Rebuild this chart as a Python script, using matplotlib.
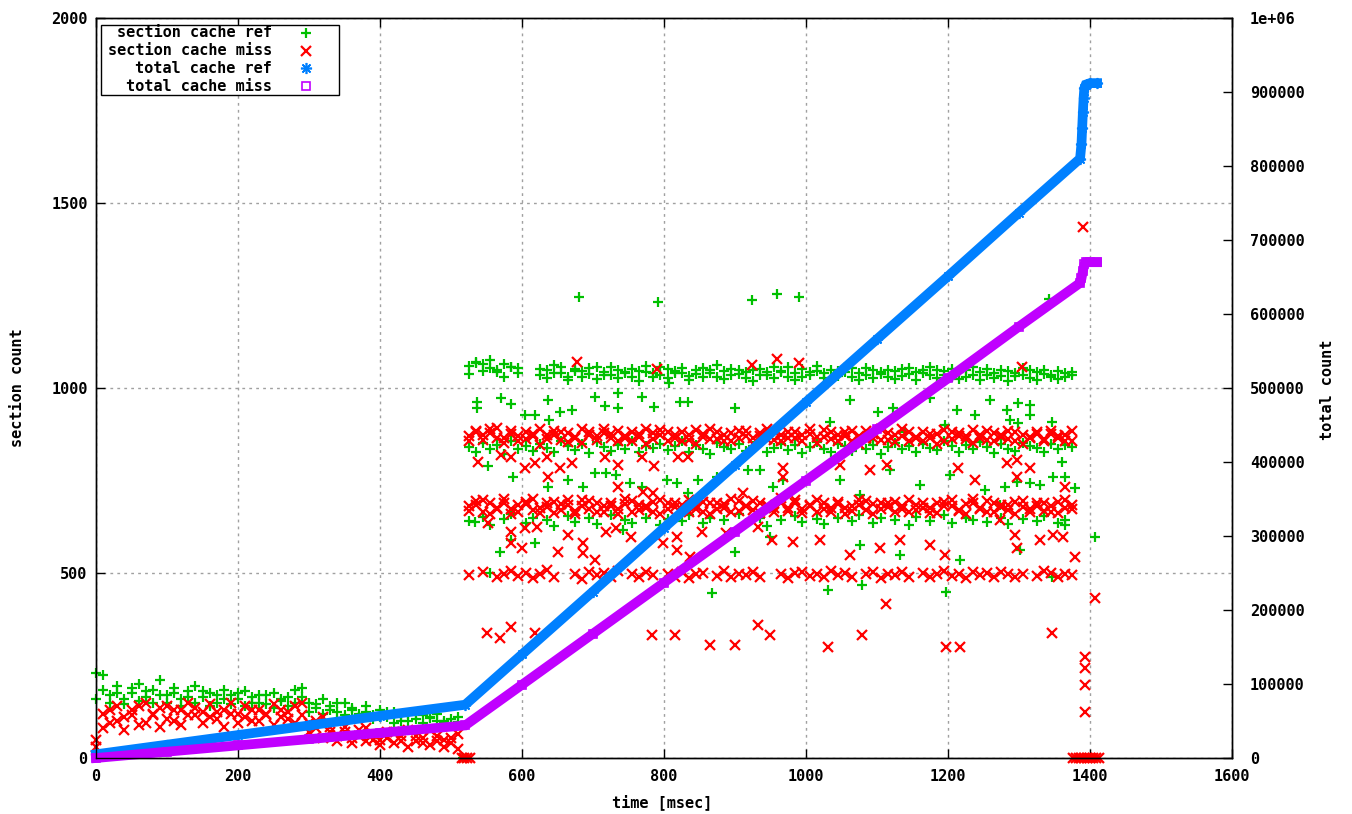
import numpy as np
import matplotlib
matplotlib.use('Agg')
import matplotlib.pyplot as plt
from matplotlib.ticker import FuncFormatter

nan = float('nan')

GREEN = '#00c000'
RED = '#ff0000'
BLUE = '#0080ff'
PURPLE = '#c000ff'

# total counters (right axis)
total_ref_t = [0, 100, 200, 300, 400, 520, 600, 700, 800, 900, 1000, 1100, 1200, 1300,
               1386, 1388, 1389, 1390, 1391, 1392, 1394, 1400, 1410]
total_ref_v = [5000, 18000, 31000, 44000, 57000, 72000, 140000, 225000, 311000, 396000,
               481000, 566000, 651000, 737000, 810000, 830000, 852000, 873000, 892000,
               905000, 910000, 912000, 912000]
total_miss_t = [0, 100, 200, 300, 400, 520, 600, 700, 800, 900, 1000, 1100, 1200, 1300,
                1386, 1388, 1390, 1392, 1394, 1400, 1410]
total_miss_v = [0, 8500, 17000, 25500, 34000, 44000, 99000, 168000, 237000, 306000,
                375000, 444000, 513000, 583000, 642000, 648000, 658000, 667000, 670000,
                670000, 670000]

# section counters before the phase change
pre_t = [0, 10, 20, 30, 40, 50, 60, 70, 80, 90,
         100, 110, 120, 130, 140, 150, 160, 170, 180, 190,
         200, 210, 220, 230, 240, 250, 260, 270, 280, 290,
         300, 310, 320, 330, 340, 350, 360, 370, 380, 390,
         400, 410, 420, 430, 440, 450, 460, 470, 480, 490,
         500, 510]
ref_pre_a = [230, 185, 170, 195, 160, 175, 200, 165, 185, 210,
             170, 190, 160, 180, 195, 165, 175, 150, 185, 170,
             160, 180, 150, 170, 145, 175, 155, 165, 185, 190,
             150, 135, 160, 140, 125, 150, 130, 120, 140, 115,
             130, 110, 125, 100, 120, 105, 115, 110, 100, 95,
             105, 98]
ref_pre_b = [160, 225, 150, 175, 145, 190, 155, 180, 150, 170,
             150, 175, 140, 165, 150, 180, 140, 170, 160, 145,
             175, 140, 165, 150, 170, 135, 160, 140, 150, 165,
             125, 145, 120, 130, 150, 115, 135, 110, 125, 105,
             110, 125, 95, 115, 100, 120, 95, 108, 118, 100,
             92, 110]
miss_pre_a = [50, 120, 95, 140, 110, 130, 90, 150, 115, 135,
              140, 100, 130, 150, 115, 125, 145, 105, 130, 150,
              120, 140, 100, 130, 115, 145, 110, 125, 140, 150,
              95, 80, 110, 70, 60, 85, 55, 75, 45, 65,
              50, 70, 40, 60, 75, 45, 55, 35, 60, 50,
              40, 65]
miss_pre_b = [30, 80, 130, 100, 75, 115, 140, 95, 120, 85,
              105, 130, 90, 115, 135, 95, 110, 125, 85, 120,
              95, 110, 130, 100, 120, 90, 130, 105, 95, 115,
              70, 100, 55, 85, 45, 70, 40, 60, 80, 50,
              35, 55, 70, 45, 30, 60, 40, 75, 45, 30,
              55, 25]

# section counters after the phase change, banded levels
band_t = [525, 535, 545, 555, 565, 575, 585, 595, 605, 615,
          625, 635, 645, 655, 665, 675, 685, 695, 705, 715,
          725, 735, 745, 755, 765, 775, 785, 795, 805, 815,
          825, 835, 845, 855, 865, 875, 885, 895, 905, 915,
          925, 935, 945, 955, 965, 975, 985, 995, 1005, 1015,
          1025, 1035, 1045, 1055, 1065, 1075, 1085, 1095, 1105, 1115,
          1125, 1135, 1145, 1155, 1165, 1175, 1185, 1195, 1205, 1215,
          1225, 1235, 1245, 1255, 1265, 1275, 1285, 1295, 1305, 1315,
          1325, 1335, 1345, 1355, 1365, 1375]
ref_1040a = [1060, 1070, 1065, 1075, 1050, 1065, 1058, 1055, nan, nan,
             1035, 1048, 1062, 1040, 1030, 1052, 1045, 1038, 1058, 1042,
             1035, 1050, 1044, 1030, 1047, 1060, 1040, 1036, 1052, 1045,
             1040, 1033, 1048, 1055, 1041, 1030, 1046, 1052, 1038, 1044,
             1050, 1035, 1042, 1058, 1046, 1030, 1040, 1052, 1036, 1045,
             1040, 1050, 1032, 1044, 1055, 1040, 1036, 1048, 1042, 1030,
             1046, 1052, 1038, 1044, 1041, 1035, 1050, 1046, 1030, 1042,
             1048, 1036, 1044, 1052, 1040, 1033, 1047, 1041, 1036, 1050,
             1044, 1038, 1030, 1046, 1040, 1035]
ref_1040b = [1038, 1068, 1045, 1055, 1042, 1030, 1058, 1040, nan, nan,
             1052, 1026, 1040, 1058, 1022, 1046, 1030, 1054, 1024, 1036,
             1056, 1028, 1040, 1052, 1018, 1044, 1030, 1058, 1026, 1040,
             1054, 1022, 1038, 1030, 1050, 1062, 1024, 1036, 1048, 1028,
             1020, 1052, 1034, 1026, 1044, 1056, 1022, 1030, 1042, 1060,
             1028, 1024, 1046, 1058, 1030, 1022, 1054, 1026, 1038, 1050,
             1024, 1032, 1054, 1022, 1048, 1056, 1026, 1034, 1052, 1024,
             1030, 1058, 1022, 1036, 1026, 1050, 1020, 1032, 1054, 1028,
             1022, 1050, 1036, 1024, 1030, 1044]
ref_840 = [840, 828, 852, 836, 846, 822, 858, 834, 844, 830,
           850, 838, 826, 856, 842, 832, 848, 824, 854, 840,
           830, 846, 836, 858, 826, 844, 838, 850, 832, 842,
           856, 828, 846, 836, 822, 852, 840, 834, 848, 830,
           844, 858, 826, 838, 850, 832, 846, 824, 840, 854,
           836, 828, 848, 842, 830, 856, 834, 846, 822, 840,
           852, 836, 844, 826, 850, 838, 832, 858, 842, 828,
           846, 834, 854, 840, 824, 848, 836, 830, 852, 844,
           838, 826, 850, 834, 846, 840]
ref_650 = [640, nan, 652, 630, nan, 645, 660, nan, 635, 650,
           nan, 642, 628, nan, 655, 638, nan, 648, 632, nan,
           658, nan, 644, 636, nan, 650, nan, 630, 646, nan,
           640, 656, nan, 634, 648, nan, 642, nan, 660, 636,
           nan, 650, 628, nan, 644, nan, 654, 638, nan, 646,
           632, nan, 650, nan, 640, 658, nan, 636, 648, nan,
           644, nan, 630, 652, nan, 640, nan, 656, 634, nan,
           648, 642, nan, 638, nan, 650, 632, nan, 646, nan,
           640, 654, nan, 636, 644, nan]
miss_870a = [870, 885, 860, 878, 892, 865, 875, 858, 882, 870,
             888, 862, 874, 880, 855, 868, 890, 872, 860, 878,
             865, 884, 870, 856, 876, 888, 862, 872, 880, 866,
             858, 874, 886, 868, 862, 880, 872, 856, 884, 870,
             864, 878, 890, 860, 872, 866, 882, 858, 876, 868,
             886, 862, 874, 880, 856, 870, 884, 866, 860, 878,
             872, 888, 858, 868, 880, 864, 876, 856, 882, 870,
             862, 886, 874, 860, 878, 868, 884, 856, 872, 866,
             880, 862, 876, 870, 858, 884]
miss_870b = [858, 880, 872, 890, 866, 852, 884, 870, 862, 876,
             846, 872, 884, 860, 878, 866, 852, 880, 870, 888,
             876, 856, 864, 882, 868, 850, 878, 886, 858, 874,
             882, 860, 850, 876, 888, 862, 856, 878, 866, 884,
             850, 870, 862, 884, 856, 880, 866, 874, 890, 852,
             868, 880, 858, 870, 884, 850, 864, 876, 888, 860,
             854, 870, 882, 864, 858, 876, 850, 886, 862, 878,
             870, 852, 866, 884, 856, 874, 862, 880, 850, 868,
             876, 858, 884, 864, 872, 856]
miss_680a = [680, 695, 665, 688, 672, 700, 660, 684, 692, 670,
             676, 690, 662, 686, 698, 668, 680, 694, 664, 682,
             690, 672, 700, 666, 684, 676, 692, 660, 688, 678,
             670, 696, 682, 664, 690, 674, 686, 700, 668, 680,
             694, 662, 684, 676, 690, 668, 698, 672, 682, 664,
             688, 676, 692, 660, 680, 696, 670, 686, 674, 690,
             664, 682, 698, 670, 688, 676, 662, 692, 680, 668,
             686, 700, 674, 664, 690, 678, 684, 660, 694, 672,
             680, 688, 666, 692, 676, 684]
miss_680b = [668, 684, 698, 660, 676, 690, 672, 664, 686, 700,
             662, 678, 692, 670, 684, 660, 696, 674, 688, 666,
             680, 660, 686, 694, 670, 682, 664, 698, 674, 690,
             684, 666, 672, 692, 660, 688, 676, 664, 694, 682,
             670, 690, 678, 666, 702, 676, 690, 662, 684, 698,
             674, 664, 686, 676, 668, 684, 694, 660, 690, 678,
             692, 672, 666, 684, 676, 662, 690, 680, 696, 670,
             660, 688, 676, 694, 666, 684, 670, 692, 678, 664,
             690, 668, 682, 662, 696, 674]
miss_495 = [495, nan, 502, nan, 488, 498, 505, 492, 500, 486,
            496, 508, 490, nan, nan, 498, 485, 504, 494, 500,
            490, 506, nan, 496, 488, 502, 494, nan, 498, 490,
            504, 486, 496, 500, nan, 492, 506, 488, 498, 494,
            502, 490, nan, nan, 496, 486, 500, 504, 492, 498,
            488, 506, 494, 500, 490, nan, 496, 502, 486, 498,
            494, 504, 490, nan, 500, 488, 496, 506, 492, 498,
            486, 502, 494, 500, 490, 504, 496, 488, 498, nan,
            492, 506, 500, 488, 496, 494]

# section counters, scattered samples
ref_scatter_t = [680, 791, 924, 959, 990, 1342,
                 536, 536, 571, 585, 604, 618, 637, 638, 653, 670, 703, 717, 735, 735,
                 769, 786, 807, 822, 834, 900,
                 552, 588, 637, 665, 686, 703, 719, 733, 752, 769, 804, 818, 834, 848,
                 874, 918, 935, 954, 968,
                 534, 555, 569, 585, 618, 742, 868, 900, 949,
                 1283, 1299, 1315, 1315, 1299, 1346, 1360, 1280, 1297, 1315, 1330, 1348,
                 1365, 1379, 1365, 1407, 1346,
                 1101, 1123, 1139, 1175, 1196, 1213, 1238, 1259, 1287, 992, 1034, 1062,
                 1090, 1048, 1076, 1118, 1161, 1203, 1252, 1273, 1076, 1132, 1217, 1301,
                 1031, 1079, 1197, 517, 522]
ref_scatter_v = [1246, 1232, 1238, 1254, 1246, 1241,
                 963, 945, 972, 957, 927, 927, 968, 914, 936, 941, 976, 952, 986, 946,
                 976, 950, 1013, 963, 963, 946,
                 789, 760, 733, 751, 733, 770, 770, 765, 743, 733, 751, 743, 716, 751,
                 760, 778, 778, 733, 751,
                 639, 500, 558, 589, 581, 616, 446, 558, 598,
                 941, 959, 954, 927, 905, 909, 801, 733, 747, 743, 738, 760,
                 760, 730, 630, 598, 490,
                 935, 946, 881, 973, 900, 941, 927, 968, 914, 949, 908, 968,
                 860, 751, 711, 778, 738, 765, 724, 684, 576, 549, 535, 562,
                 454, 468, 449, 0, 0]
miss_scatter_t = [677, 790, 924, 959, 990, 1304, 1390,
                  538, 571, 585, 604, 618, 635, 637, 653, 670, 717, 735, 735, 769, 786,
                  820, 834, 911, 968, 968,
                  552, 585, 604, 621, 585, 600, 651, 665, 686, 686, 703, 719, 733, 754,
                  771, 785, 799, 818, 818, 837, 853, 888, 932, 952, 982,
                  550, 569, 585, 618, 783, 815, 932, 949, 865, 900, 1031, 1079, 1197,
                  1217, 1346, 1113,
                  1283, 1297, 1315, 1297, 1365, 1294, 1297, 1330, 1348, 1362, 1379, 1407,
                  1048, 1090, 1114, 1132, 1175, 1214, 1238, 1273, 1020, 1062, 1104, 1196,
                  1393, 1393, 1393, 1393,
                  515, 519, 523, 527,
                  1376, 1380, 1384, 1388, 1392, 1396, 1400, 1404, 1408, 1412]
miss_scatter_v = [1070, 1051, 1062, 1078, 1067, 1056, 1436,
                  801, 819, 814, 784, 797, 814, 760, 784, 797, 814, 792, 733, 814, 789,
                  814, 814, 716, 784, 760,
                  635, 612, 622, 625, 581, 568, 558, 603, 581, 554, 535, 612, 622, 598,
                  720, 716, 581, 598, 562, 544, 612, 608, 625, 589, 585,
                  338, 324, 355, 338, 332, 332, 359, 332, 305, 305, 300, 332, 300,
                  300, 338, 416,
                  797, 805, 784, 760, 733, 603, 568, 589, 603, 598, 544, 432,
                  792, 778, 792, 589, 576, 784, 751, 643, 589, 549, 568, 549,
                  273, 243, 197, 124,
                  0, 0, 0, 0,
                  0, 0, 0, 0, 0, 0, 0, 0, 0, 0]

ref_style = dict(ls='none', marker='+', color=GREEN, ms=7, mew=1.6, clip_on=False)
miss_style = dict(ls='none', marker='x', color=RED, ms=6.5, mew=1.6, clip_on=False)

plt.rcParams['font.family'] = ['DejaVu Sans Mono']
plt.rcParams['font.weight'] = 'bold'
plt.rcParams['font.size'] = 11

fig = plt.figure(figsize=(13.52, 8.14), dpi=100)
ax = fig.add_axes([96 / 1352, 56 / 814, 1136 / 1352, 740 / 814])
ax2 = ax.twinx()

ax.plot(pre_t, ref_pre_a, **ref_style)
ax.plot(pre_t, ref_pre_b, **ref_style)
for vals in (ref_1040a, ref_1040b, ref_840, ref_650):
    ax.plot(band_t, vals, **ref_style)
ax.plot(ref_scatter_t, ref_scatter_v, **ref_style)

ax.plot(pre_t, miss_pre_a, **miss_style)
ax.plot(pre_t, miss_pre_b, **miss_style)
for vals in (miss_870a, miss_870b, miss_680a, miss_680b, miss_495):
    ax.plot(band_t, vals, **miss_style)
ax.plot(miss_scatter_t, miss_scatter_v, **miss_style)

ax2.plot(total_ref_t, total_ref_v, color=BLUE, lw=7, solid_joinstyle='miter',
         marker=(8, 2, 0), ms=8, mew=1.2, clip_on=False)
ax2.plot(total_miss_t, total_miss_v, color=PURPLE, lw=7, solid_joinstyle='miter',
         marker='s', mfc='none', ms=6, mew=1.2, clip_on=False)

ax.set_xlim(0, 1600)
ax.set_ylim(0, 2000)
ax2.set_ylim(0, 1e6)
ax.set_xticks(range(0, 1601, 200))
ax.set_yticks(range(0, 2001, 500))
ax2.set_yticks(range(0, 1000001, 100000))
ax2.yaxis.set_major_formatter(FuncFormatter(lambda v, p: '%g' % v))

ax.grid(True, color='#a0a0a0', lw=1, ls=(0, (2, 3)))
ax.tick_params(axis='x', direction='in', length=6.5, width=1, top=True, pad=8)
ax.tick_params(axis='y', direction='in', length=6.5, width=1, right=False, pad=6)
ax2.tick_params(axis='y', direction='in', length=6.5, width=1, pad=13)
for a in (ax, ax2):
    for s in a.spines.values():
        s.set_linewidth(1)
        s.set_color('black')

fig.text(662 / 1352, 1 - 802 / 814, 'time [msec]', ha='center', va='center')
fig.text(18 / 1352, 1 - 388 / 814, 'section count', rotation=90, ha='center', va='center')
fig.text(1327 / 1352, 1 - 390 / 814, 'total count', rotation=90, ha='center', va='center')

# key box in the top left corner
tr = ax2.transAxes
ax2.add_patch(plt.Rectangle((0.0044, 0.896), 0.2096, 0.0945, transform=tr,
                            fill=True, fc='white', ec='black', lw=1, zorder=5))
labels = ['section cache ref', 'section cache miss', 'total cache ref', 'total cache miss']
keys = [dict(marker='+', color=GREEN, ms=7, mew=1.6),
        dict(marker='x', color=RED, ms=6.5, mew=1.6),
        dict(marker=(8, 2, 0), color=BLUE, ms=8, mew=1.2),
        dict(marker='s', color=PURPLE, mfc='none', ms=6, mew=1.2)]
rows_y = [0.980, 0.956, 0.932, 0.908]
for lab, key, yy in zip(labels, keys, rows_y):
    ax2.text(0.155, yy, lab, transform=tr, ha='right', va='center', zorder=6)
    ax2.plot([0.185], [yy], transform=tr, ls='none', zorder=6, clip_on=False, **key)

fig.savefig('out.png', dpi=100)
